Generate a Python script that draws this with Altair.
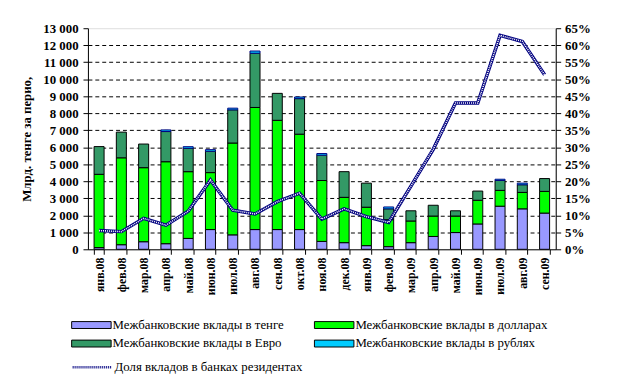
import altair as alt
import pandas as pd

months = ["янв.08", "фев.08", "мар.08", "апр.08", "май.08", "июн.08", "июл.08",
          "авг.08", "сен.08", "окт.08", "ноя.08", "дек.08", "янв.09", "фев.09",
          "мар.09", "апр.09", "май.09", "июн.09", "июл.09", "авг.09", "сен.09"]

tenge = [100, 270, 445, 330, 640, 1160, 850, 1160, 1160, 1160, 465, 390, 215, 155,
         390, 755, 985, 1490, 2535, 2380, 2130]
dollars = [4310, 5110, 4355, 4820, 3925, 3350, 5400, 7180, 6425, 5610, 3580, 2665,
           2260, 1585, 1275, 1200, 970, 1395, 930, 965, 1275]
euro = [1630, 1510, 1390, 1775, 1375, 1255, 1950, 3190, 1585, 2090, 1490, 1510,
        1415, 640, 600, 635, 310, 540, 580, 450, 755]
rubles = [0, 0, 0, 95, 95, 95, 100, 130, 0, 95, 95, 0, 0, 110, 0, 0, 0, 0, 75, 95, 0]
share = [5.5, 5.2, 9.1, 7.1, 11.2, 20.4, 11.5, 10.4, 14.0, 16.5, 8.9, 11.9, 9.6, 7.9,
         18.6, 29.4, 43.0, 43.0, 62.9, 61.1, 51.3]

series_names = ["Межбанковские вклады в тенге", "Межбанковские вклады в долларах",
                "Межбанковские вклады в Евро", "Межбанковские вклады в рублях"]
series_colors = ["#9999FF", "#00FF00", "#339966", "#00CCFF"]
line_name = "Доля вкладов в банках резидентах"
y_title = "Млрд. тенге за перио,"

rows = []
for i, m in enumerate(months):
    for k, vals in enumerate([tenge, dollars, euro, rubles]):
        rows.append({"month": m, "series": series_names[k], "value": vals[i], "ord": k})
bars_df = pd.DataFrame(rows)
line_df = pd.DataFrame({"month": months, "share": share, "name": line_name})

FONT = "Liberation Serif"

x_enc = alt.X(
    "month:N", sort=months,
    scale=alt.Scale(paddingInner=0.55, paddingOuter=0.275),
    axis=alt.Axis(title=None, labelAngle=270, tickBand="extent", tickSize=5,
                  labelFont=FONT, labelFontSize=12, labelFontWeight="bold",
                  labelColor="black", labelPadding=3, domainColor="black",
                  tickColor="black"),
)

bars = alt.Chart(bars_df).transform_filter("datum.value > 0").mark_bar(
    strokeWidth=1
).encode(
    x=x_enc,
    y=alt.Y("value:Q", stack="zero",
            scale=alt.Scale(domain=[0, 13000], nice=False),
            axis=alt.Axis(values=list(range(0, 14000, 1000)),
                          labelExpr="replace(format(datum.value, ','), ',', ' ')",
                          title=y_title, titleFont=FONT, titleFontSize=13,
                          titleFontWeight="bold", titleColor="black",
                          titleX=-62, titleY=112, titleAngle=270,
                          titleAlign="center", titleBaseline="middle",
                          labelFont=FONT, labelFontSize=13, labelFontWeight="bold",
                          labelColor="black", labelPadding=5, tickSize=5,
                          tickColor="black", domainColor="black",
                          grid=True, gridColor="black", gridDash=[4, 3],
                          gridOpacity={"condition": {"test": "datum.value >= 13000 || datum.value <= 0", "value": 0}, "value": 1})),
    color=alt.Color("series:N",
                    scale=alt.Scale(domain=series_names, range=series_colors),
                    legend=alt.Legend(title=None, orient="none", legendX=-7, legendY=290,
                                      columns=2, direction="horizontal",
                                      symbolType="M-2,-0.35H2V0.35H-2Z",
                                      symbolSize=400, symbolStrokeColor="black",
                                      symbolStrokeWidth=1, symbolOpacity=1,
                                      labelFont=FONT, labelFontSize=13,
                                      labelColor="black", columnPadding=28,
                                      rowPadding=1, labelOffset=11, padding=0,
                                      labelLimit=400)),
    stroke=alt.condition("datum.series == 'Межбанковские вклады в рублях'",
                         alt.value("#000080"), alt.value("black")),
    order=alt.Order("ord:Q", sort="ascending"),
)

y_line = alt.Y("share:Q", scale=alt.Scale(domain=[0, 65], nice=False),
               axis=alt.Axis(orient="right", values=list(range(0, 70, 5)),
                             labelExpr="datum.value + '%'", title=None, grid=False,
                             labelFont=FONT, labelFontSize=13, labelFontWeight="bold",
                             labelColor="black", labelPadding=4, tickSize=5,
                             tickColor="black", domainColor="black"))

line1 = alt.Chart(line_df).mark_line(strokeWidth=3.5).encode(
    x=x_enc, y=y_line,
    stroke=alt.Stroke("name:N", scale=alt.Scale(domain=[line_name], range=["#000080"]),
                      legend=alt.Legend(title=None, orient="none", legendX=-7, legendY=332,
                                        symbolType="M-2,0H2", symbolSize=400,
                                        symbolStrokeWidth=2.5, symbolDash=[1, 1],
                                        labelFont=FONT, labelFontSize=13,
                                        labelColor="black", labelOffset=11, padding=0,
                                        labelLimit=400)),
)
line2 = alt.Chart(line_df).mark_line(strokeWidth=1.6, strokeDash=[1, 1], color="white").encode(
    x=x_enc, y=y_line,
)
lines = alt.layer(line1, line2)

chart = alt.layer(bars, lines).resolve_scale(y="independent").properties(
    width=474, height=224,
    autosize=alt.AutoSizeParams(type="none"),
    padding={"left": 81, "top": 18, "right": 56, "bottom": 135},
).configure_view(stroke="#808080", strokeWidth=1).configure(background="white")

chart.save("out.html", embed_options={"renderer": "svg", "actions": False})
